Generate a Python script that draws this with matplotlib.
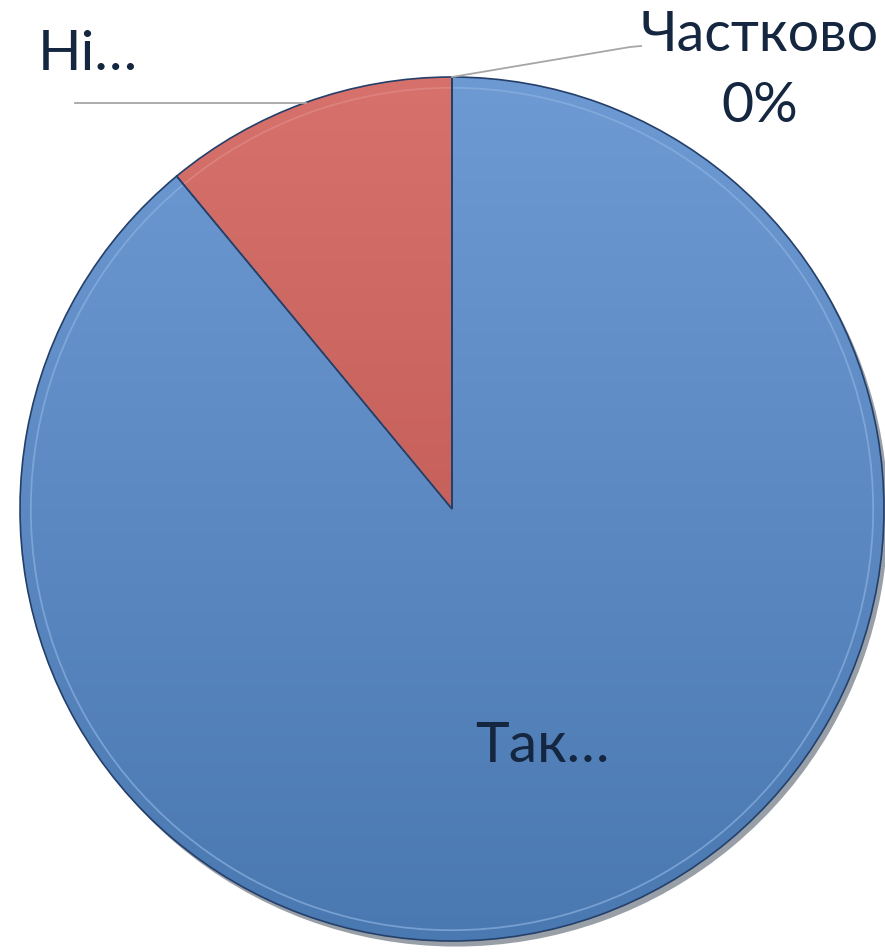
import numpy as np
import matplotlib
matplotlib.use("Agg")
import matplotlib.pyplot as plt
import matplotlib.patheffects as pe

categories = ["Так", "Ні", "Частково"]
values = [89, 11, 0]
label_texts = ["Так…", "Ні…", "Частково\n0%"]

W, H = 885, 953
fig = plt.figure(figsize=(W / 100, H / 100), dpi=100)
cx, cy, R = 452, 510, 432
ax = fig.add_axes([(cx - R) / W, (H - cy - R) / H, 2 * R / W, 2 * R / H])

top_cols = ["#6E9AD3", "#D6716C", "#9BBB59"]
bot_cols = ["#4A78B0", "#B8504B", "#7F9A48"]
face_cols = ["#5F8BC4", "#C9605B", "#8EAA52"]

# base layer with shadow
base, _ = ax.pie(values, startangle=90, counterclock=False, radius=1.0,
                 colors=face_cols, wedgeprops=dict(edgecolor="none"))
for w in base:
    w.set_zorder(1)
    w.set_path_effects([pe.SimplePatchShadow(offset=(3, -4), alpha=0.45, rho=0.3),
                        pe.Normal()])

# vertical gradient clipped to each wedge
yy = np.linspace(1, -1, 256).reshape(-1, 1)
for w, tc, bc in zip(base, top_cols, bot_cols):
    if w.theta2 - w.theta1 <= 0:
        continue
    t = matplotlib.colors.to_rgb(tc)
    b = matplotlib.colors.to_rgb(bc)
    frac = (1 - yy) / 2
    img = np.zeros((256, 1, 3))
    for k in range(3):
        img[:, :, k] = t[k] + (b[k] - t[k]) * frac
    im = ax.imshow(img, extent=(-1, 1, -1, 1), aspect="auto", zorder=1.5,
                   interpolation="bilinear")
    im.set_clip_path(w)

# inner bevel outline
inner, _ = ax.pie(values, startangle=90, counterclock=False, radius=0.975,
                  colors=["none"] * 3, wedgeprops=dict(edgecolor="none", linewidth=0))
bevel_cols = ["#8AB0E0", "#E08A86", "#B0CC80"]
for w, bc in zip(inner, bevel_cols):
    if w.theta2 - w.theta1 <= 0:
        w.set_visible(False)
        continue
    w.set_edgecolor(bc)
    w.set_linewidth(1.3)
    w.set_alpha(0.7)
    w.set_zorder(2)

# dark outlines on top
wedges, _ = ax.pie(values, startangle=90, counterclock=False, radius=1.0,
                   colors=["none"] * 3,
                   wedgeprops=dict(edgecolor="#24406A", linewidth=1.2))
for w in wedges:
    w.set_zorder(2.5)
    w.set_facecolor("none")

ax.set_xlim(-1, 1)
ax.set_ylim(-1, 1)
ax.set_aspect("equal")
ax.axis("off")

txt_color = "#152640"
font = dict(family=["Lato", "DejaVu Sans"], color=txt_color)

# Так label
ax.text((542 - cx) / R, (cy - 747) / R, label_texts[0], ha="center", va="center",
        fontsize=41, zorder=5, **font)

# Ні label with leader line from wedge mid-angle
wn = wedges[1]
mid = np.deg2rad((wn.theta1 + wn.theta2) / 2)
px, py = np.cos(mid), np.sin(mid)
ax.plot([px, (75 - cx) / R], [py, py], color="#A6A6A6", lw=1.3, clip_on=False, zorder=4)
ax.text((88 - cx) / R, (cy - 55) / R, label_texts[1], ha="center", va="center",
        fontsize=41, zorder=5, **font)

# Частково label, leader from zero wedge
wc = wedges[2]
ang = np.deg2rad(wc.theta1)
qx, qy = np.cos(ang), np.sin(ang)
ax.plot([qx, (630 - cx) / R, (641 - cx) / R], [qy, (cy - 48) / R, (cy - 47) / R],
        color="#A6A6A6", lw=1.3, clip_on=False, zorder=4)
ax.text((760 - cx) / R, (cy - 71) / R, label_texts[2], ha="center", va="center",
        fontsize=40, linespacing=1.5, zorder=5, **font)

fig.savefig("out.png", dpi=100)
